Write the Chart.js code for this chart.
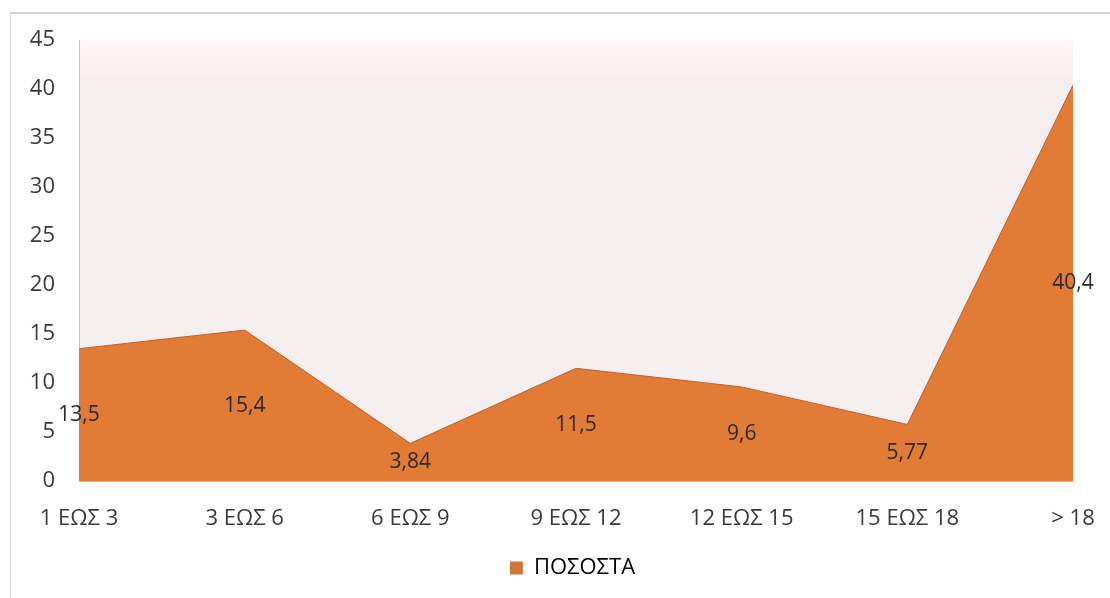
<!DOCTYPE html>
<html>
<head>
<meta charset="utf-8">
<script src="https://cdn.jsdelivr.net/npm/chart.js@4/dist/chart.umd.min.js"></script>
<style>
  html, body { margin: 0; padding: 0; background: #fff; }
  #wrap { position: relative; width: 1110px; height: 598px; overflow: hidden; }
  #frame { position: absolute; left: 10px; top: 12px; right: 0; bottom: 0;
           border-top: 2px solid #d4d4d4; border-left: 1px solid #d8d8d8; }
  canvas { position: absolute; left: 0; top: 0; }
</style>
</head>
<body>
<div id="wrap">
  <div id="frame"></div>
  <canvas id="area-chart" width="1110" height="598"></canvas>
</div>
<script>
const categories = ['1 ΕΩΣ 3', '3 ΕΩΣ 6', '6 ΕΩΣ 9', '9 ΕΩΣ 12', '12 ΕΩΣ 15', '15 ΕΩΣ 18', '> 18'];
const percentages = [13.5, 15.4, 3.84, 11.5, 9.6, 5.77, 40.4];
const yTicks = [0, 5, 10, 15, 20, 25, 30, 35, 40, 45];

const FONT = '"Open Sans", "Noto Sans", sans-serif';
const TEXT = '#3a3a3a';

// soft pink plot background with a lighter band along the top
const plotBackground = {
  id: 'plotBackground',
  beforeDraw(chart) {
    const { ctx, chartArea: a } = chart;
    ctx.save();
    ctx.fillStyle = '#f5eeee';
    ctx.fillRect(a.left, a.top, a.right - a.left, a.bottom - a.top);
    const g = ctx.createLinearGradient(0, a.top, 0, a.top + 44);
    g.addColorStop(0, '#fdf6f6');
    g.addColorStop(0.8, '#fbf0f0');
    g.addColorStop(1, 'rgba(245,238,238,0)');
    ctx.fillStyle = g;
    ctx.fillRect(a.left, a.top, a.right - a.left, 44);
    ctx.restore();
  }
};

// value labels sit half-way up each point's column
const midLabels = {
  id: 'midLabels',
  afterDatasetsDraw(chart) {
    const { ctx } = chart;
    const y = chart.scales.y;
    const meta = chart.getDatasetMeta(0);
    ctx.save();
    ctx.font = '21px ' + FONT;
    ctx.fillStyle = '#2a2a2a';
    ctx.textAlign = 'center';
    ctx.textBaseline = 'middle';
    percentages.forEach((v, i) => {
      const px = meta.data[i].x;
      const py = y.getPixelForValue(v / 2);
      ctx.fillText(String(v).replace('.', ','), px, py);
    });
    ctx.restore();
  }
};

// nudge the legend a little right of centre
const legendShift = {
  id: 'legendShift',
  afterLayout(chart) {
    if (chart.legend) {
      chart.legend.left += 36;
      chart.legend.right += 36;
    }
  }
};

new Chart(document.getElementById('area-chart'), {
  type: 'line',
  data: {
    labels: categories,
    datasets: [{
      label: 'ΠΟΣΟΣΤΑ',
      data: percentages,
      fill: 'origin',
      backgroundColor: '#e17b36',
      borderColor: '#bf6128',
      borderWidth: 1,
      pointRadius: 0,
      tension: 0
    }]
  },
  options: {
    responsive: false,
    animation: false,
    layout: { padding: { top: 40, right: 37, left: 0, bottom: 9 } },
    scales: {
      x: {
        offset: false,
        afterFit(scale) {
          scale.height = 62;
          scale.paddingLeft = 0;
          scale.paddingRight = 0;
        },
        grid: { display: false, drawTicks: false },
        border: { color: '#b8b8b8' },
        ticks: { color: TEXT, font: { family: FONT, size: 22 }, padding: 25, maxRotation: 0 }
      },
      y: {
        min: 0, max: 45,
        afterFit(scale) { scale.width = 79; },
        afterBuildTicks(scale) { scale.ticks = yTicks.map(v => ({ value: v })); },
        grid: { display: false, drawTicks: false },
        border: { color: '#c4c4c4' },
        ticks: { color: TEXT, font: { family: FONT, size: 22 }, padding: 24 }
      }
    },
    plugins: {
      legend: {
        position: 'bottom',
        labels: {
          color: TEXT,
          font: { family: FONT, size: 22 },
          boxWidth: 13, boxHeight: 13,
          padding: 14,
          generateLabels(chart) {
            return [{ text: 'ΠΟΣΟΣΤΑ', fillStyle: '#cf743a', strokeStyle: '#cf743a', lineWidth: 0, datasetIndex: 0 }];
          }
        }
      },
      tooltip: { enabled: false }
    }
  },
  plugins: [plotBackground, midLabels, legendShift]
});
</script>
</body>
</html>
